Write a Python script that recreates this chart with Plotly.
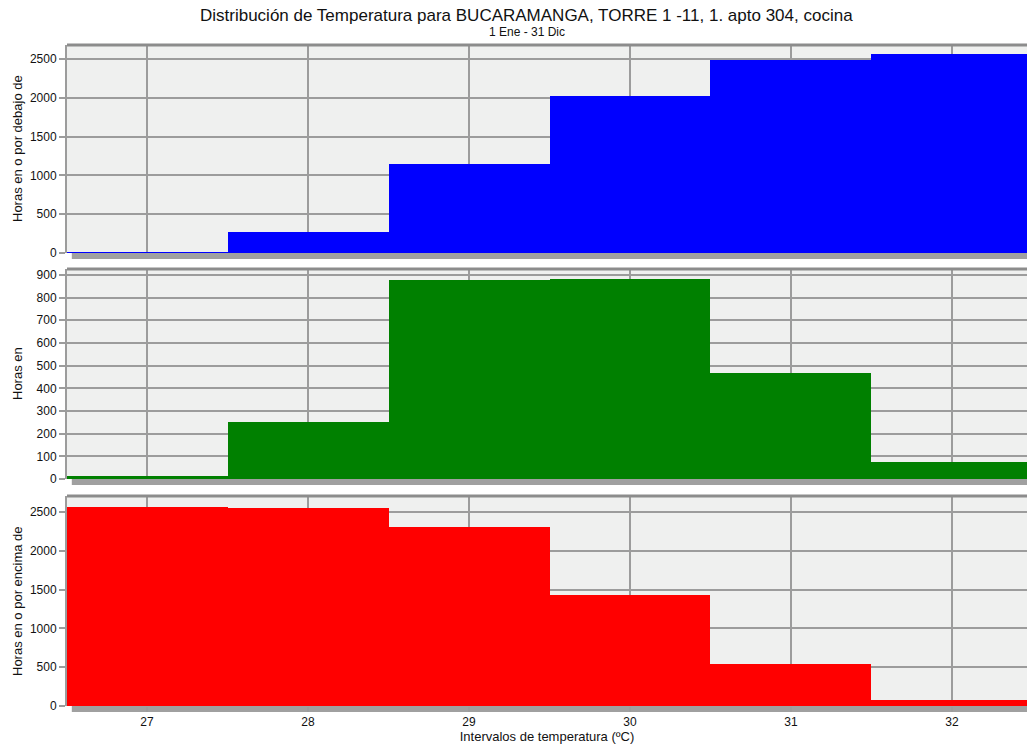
import plotly.graph_objects as go
from plotly.subplots import make_subplots

# temperature intervals (bin centres, ºC)
intervalos = [27, 28, 29, 30, 31, 32]
# hours at or below each interval
horas_debajo = [14, 265, 1143, 2025, 2493, 2568]
# hours in each interval
horas_en = [14, 251, 878, 882, 468, 75]
# hours at or above each interval
horas_encima = [2568, 2554, 2303, 1425, 543, 75]

titulo = "Distribución de Temperatura para BUCARAMANGA, TORRE 1 -11, 1. apto 304, cocina"
subtitulo = "1 Ene - 31 Dic"
ytitulos = ["Horas en o por debajo de", "Horas en", "Horas en o por encima de"]

fig = make_subplots(rows=3, cols=1, shared_xaxes=True)

series = [(horas_debajo, "#0000ff"), (horas_en, "#008000"), (horas_encima, "#ff0000")]
for i, (vals, col) in enumerate(series):
    fig.add_trace(go.Bar(x=intervalos, y=vals, width=1, marker_color=col,
                         marker_line_width=0, showlegend=False), row=i + 1, col=1)

grid = "#9c9c9c"
doms = [[0.6853, 1.0], [0.3434, 0.6611], [0.0, 0.3177]]
yranges = [[0, 2680], [0, 926], [0, 2706]]
ydticks = [500, 100, 500]
for i in range(3):
    n = "" if i == 0 else str(i + 1)
    fig.layout["yaxis" + n].update(domain=doms[i], range=yranges[i], dtick=ydticks[i],
                                   showgrid=True, gridcolor=grid, gridwidth=2,
                                   ticks="outside", ticklen=6, tickcolor=grid, tickwidth=2,
                                   showline=True, linecolor=grid, linewidth=2,
                                   zeroline=False, tickfont=dict(size=12))
    fig.layout["xaxis" + n].update(range=[26.503, 32.466], dtick=1,
                                   showgrid=True, gridcolor=grid, gridwidth=2,
                                   zeroline=False, tickfont=dict(size=12))
    # top border
    fig.add_shape(type="line", xref="x" + n + " domain", yref="y" + n + " domain",
                  x0=0, x1=1, y0=1, y1=1, line=dict(color="#8c8c8c", width=3))
    # shadow strip under each panel
    h = (doms[i][1] - doms[i][0]) * 661
    fig.add_shape(type="rect", xref="x" + n + " domain", yref="y" + n + " domain",
                  x0=0.005, x1=1, y0=-6 / h, y1=0, fillcolor="#a0a0a0",
                  line_width=0, layer="below")
    fig.add_annotation(text=ytitulos[i], textangle=-90, xref="paper",
                       yref="y" + n + " domain", x=0, xshift=-50, y=0.5,
                       xanchor="center", yanchor="middle",
                       showarrow=False, font=dict(size=13))

fig.update_xaxes(showticklabels=False, showline=False, ticks="")
fig.layout.xaxis3.update(showticklabels=True, ticks="outside", ticklen=5,
                         tickcolor=grid, tickwidth=2,
                         title=dict(text="Intervalos de temperatura (ºC)",
                                    font=dict(size=13), standoff=2))

fig.add_annotation(text=titulo, xref="paper", yref="paper", x=0.479, y=1,
                   xanchor="center", yanchor="middle",
                   yshift=30, showarrow=False, font=dict(size=17))
fig.add_annotation(text=subtitulo, xref="paper", yref="paper", x=0.479, y=1,
                   xanchor="center", yanchor="middle",
                   yshift=13, showarrow=False, font=dict(size=12))

fig.update_layout(width=1027, height=750, bargap=0,
                  margin=dict(l=67, r=0, t=45, b=44),
                  plot_bgcolor="#eff0ef", paper_bgcolor="white",
                  font=dict(family="Liberation Sans, Arial", color="#111111"))

fig.write_html("out.html", config={"displayModeBar": False},
               post_script="document.body.style.margin='0';")
